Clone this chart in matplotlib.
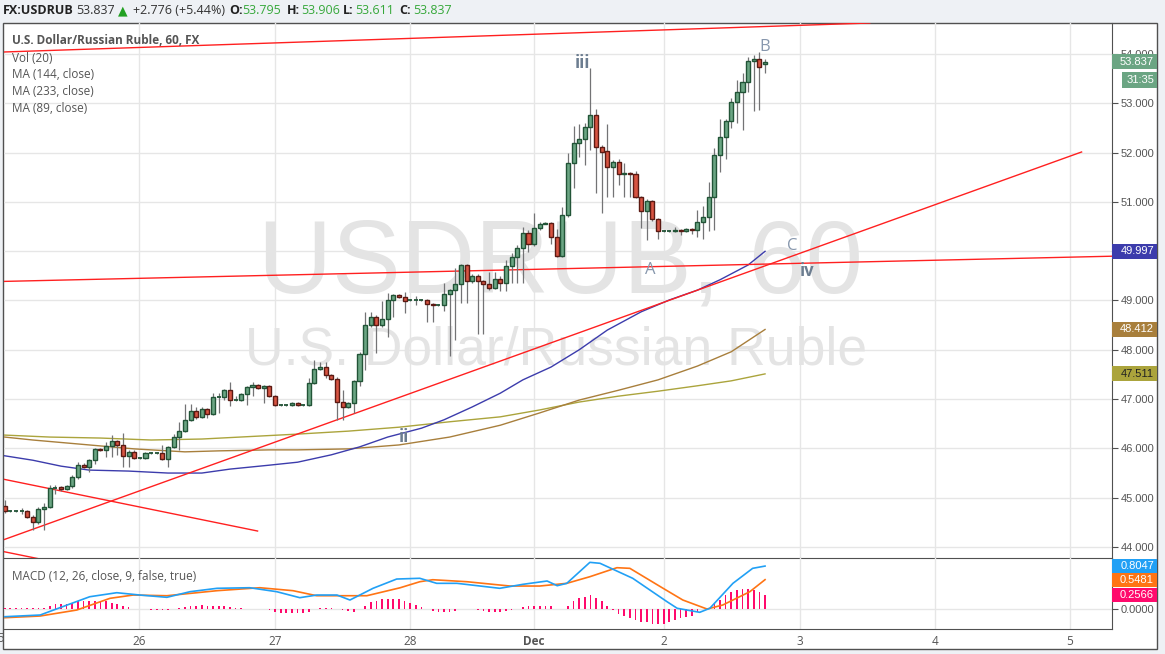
import numpy as np
import matplotlib.pyplot as plt
from matplotlib.patches import Rectangle
from matplotlib.ticker import FormatStrFormatter

plt.rcParams['font.family'] = ['Open Sans', 'DejaVu Sans']

# hourly USDRUB bars, index 0 = Nov 25 00:00
opens = [
    44.83, 44.73, 44.73, 44.73, 44.73, 44.61, 44.51, 44.77, 44.81, 45.20,
    45.22, 45.18, 45.24, 45.42, 45.66, 45.62, 45.76, 45.99, 45.97, 46.05,
    46.15, 46.07, 45.85, 45.93, 45.81, 45.81, 45.91, 45.91, 45.91, 45.79,
    46.03, 46.23, 46.35, 46.58, 46.76, 46.64, 46.80, 46.70, 47.04, 47.04,
    47.18, 46.98, 46.98, 47.10, 47.25, 47.29, 47.23, 47.27, 47.06, 46.88,
    46.88, 46.88, 46.92, 46.88, 46.88, 47.33, 47.61, 47.65, 47.49, 47.41,
    46.94, 46.84, 46.92, 47.37, 47.91, 48.50, 48.67, 48.50, 48.62, 49.01,
    49.11, 49.07, 49.00, 49.01, 49.01, 49.01, 48.93, 48.91, 48.91, 49.13,
    49.21, 49.33, 49.72, 49.40, 49.50, 49.40, 49.33, 49.25, 49.44, 49.36,
    49.70, 49.88, 50.07, 50.37, 50.15, 50.47, 50.55, 50.57, 50.29, 49.90,
    50.73, 51.79, 52.19, 52.28, 52.52, 52.76, 52.11, 52.03, 51.71, 51.81,
    51.57, 51.59, 51.57, 51.10, 50.82, 51.02, 50.65, 50.41, 50.41, 50.41,
    50.43, 50.41, 50.45, 50.43, 50.59, 50.69, 51.10, 51.95, 52.32, 52.64,
    53.03, 53.23, 53.43, 53.86, 53.90, 53.795]
highs = [
    44.95, 44.75, 44.75, 44.79, 44.75, 44.65, 44.81, 44.89, 45.26, 45.26,
    45.24, 45.26, 45.46, 45.72, 45.70, 45.79, 46.01, 46.01, 46.13, 46.27,
    46.17, 46.31, 45.97, 45.97, 45.83, 45.93, 45.93, 45.93, 46.07, 46.05,
    46.29, 46.54, 46.90, 46.90, 46.84, 46.84, 46.82, 47.12, 47.12, 47.21,
    47.35, 47.06, 47.12, 47.27, 47.35, 47.31, 47.29, 47.29, 47.08, 46.90,
    46.90, 46.94, 46.94, 46.90, 47.43, 47.79, 47.75, 47.75, 47.51, 47.45,
    47.18, 46.94, 47.39, 47.96, 48.77, 48.77, 48.71, 48.99, 49.15, 49.13,
    49.13, 49.17, 49.03, 49.09, 49.03, 49.03, 48.95, 48.93, 49.36, 49.23,
    49.66, 49.74, 49.74, 49.54, 49.54, 49.42, 49.58, 49.58, 49.50, 49.82,
    49.96, 50.13, 50.49, 50.43, 50.78, 50.59, 50.59, 50.59, 50.45, 50.90,
    51.99, 52.54, 52.58, 52.60, 53.72, 52.88, 52.15, 52.58, 51.85, 51.87,
    51.79, 51.61, 51.63, 51.12, 51.06, 51.04, 50.67, 50.43, 50.43, 50.49,
    50.45, 50.47, 50.47, 50.84, 50.92, 51.40, 52.09, 52.68, 52.68, 53.11,
    53.47, 53.61, 53.94, 53.98, 54.04, 53.906]
lows = [
    44.69, 44.71, 44.71, 44.67, 44.59, 44.35, 44.47, 44.35, 44.79, 45.08,
    45.14, 45.16, 45.20, 45.38, 45.60, 45.52, 45.68, 45.95, 45.83, 45.83,
    45.87, 45.62, 45.62, 45.79, 45.79, 45.79, 45.89, 45.89, 45.76, 45.62,
    46.01, 45.97, 46.33, 46.56, 46.60, 46.62, 46.62, 46.68, 46.72, 46.98,
    46.86, 46.96, 46.96, 46.88, 47.06, 47.21, 46.92, 47.04, 46.86, 46.86,
    46.86, 46.86, 46.86, 46.86, 46.86, 47.31, 47.59, 47.43, 47.39, 46.58,
    46.58, 46.82, 46.72, 47.27, 47.59, 48.46, 47.94, 48.46, 48.26, 48.67,
    49.05, 48.75, 48.99, 48.91, 48.99, 48.56, 48.56, 48.89, 48.79, 47.87,
    48.20, 48.95, 48.95, 49.36, 48.32, 48.32, 49.21, 49.23, 49.19, 49.19,
    49.36, 49.36, 49.36, 49.98, 50.11, 50.43, 50.55, 50.15, 49.88, 49.88,
    50.69, 51.28, 51.91, 51.75, 52.05, 51.18, 50.78, 51.10, 51.10, 51.34,
    51.10, 51.10, 51.08, 50.47, 50.23, 50.61, 50.25, 50.39, 50.39, 50.39,
    50.33, 50.39, 50.35, 50.29, 50.25, 50.41, 50.43, 51.61, 51.87, 52.50,
    52.60, 52.46, 53.23, 52.84, 52.86, 53.611]
closes = [
    44.73, 44.73, 44.73, 44.73, 44.61, 44.51, 44.77, 44.81, 45.20, 45.20,
    45.18, 45.24, 45.42, 45.66, 45.62, 45.76, 45.99, 45.97, 46.05, 46.15,
    46.07, 45.85, 45.93, 45.81, 45.81, 45.91, 45.91, 45.91, 45.79, 46.03,
    46.23, 46.35, 46.58, 46.76, 46.64, 46.80, 46.70, 47.04, 47.04, 47.18,
    46.98, 46.98, 47.10, 47.25, 47.29, 47.23, 47.27, 47.06, 46.88, 46.88,
    46.88, 46.92, 46.88, 46.88, 47.33, 47.61, 47.65, 47.49, 47.41, 46.94,
    46.84, 46.92, 47.37, 47.91, 48.50, 48.67, 48.50, 48.62, 49.01, 49.11,
    49.07, 48.99, 49.01, 49.01, 49.01, 48.93, 48.91, 48.91, 49.13, 49.21,
    49.33, 49.72, 49.40, 49.50, 49.40, 49.33, 49.25, 49.44, 49.36, 49.70,
    49.88, 50.07, 50.37, 50.15, 50.47, 50.55, 50.57, 50.29, 49.90, 50.73,
    51.79, 52.19, 52.28, 52.52, 52.76, 52.11, 52.01, 51.71, 51.81, 51.57,
    51.59, 51.57, 51.10, 50.82, 51.02, 50.65, 50.41, 50.41, 50.41, 50.43,
    50.41, 50.45, 50.43, 50.59, 50.69, 51.10, 51.95, 52.32, 52.64, 53.03,
    53.23, 53.43, 53.86, 53.90, 53.74, 53.837]

# moving averages (bar index, value)
ma89_idx = [0, 5, 10, 15, 22, 29, 35, 40, 47, 52, 58, 63, 68, 74, 78, 83, 88,
            92, 97, 102, 107, 113, 118, 123, 127, 132, 135]
ma89 = [45.85, 45.76, 45.64, 45.56, 45.54, 45.50, 45.50, 45.58, 45.66, 45.72,
        45.87, 46.03, 46.23, 46.41, 46.58, 46.84, 47.12, 47.39, 47.65, 48.00,
        48.40, 48.77, 49.01, 49.21, 49.42, 49.72, 49.997]
ma144_idx = [0, 5, 11, 17, 23, 32, 38, 47, 52, 61, 70, 79, 88, 95, 102, 109,
             116, 123, 129, 135]
ma144 = [46.23, 46.17, 46.11, 46.05, 45.99, 45.93, 45.95, 45.97, 45.97, 45.99,
         46.07, 46.23, 46.47, 46.72, 46.98, 47.18, 47.39, 47.67, 47.96, 48.412]
ma233_idx = [0, 8, 17, 26, 35, 52, 61, 70, 79, 88, 95, 102, 109, 116, 123,
             129, 135]
ma233 = [46.27, 46.23, 46.21, 46.17, 46.19, 46.29, 46.35, 46.43, 46.54, 46.64,
         46.78, 46.94, 47.06, 47.16, 47.27, 47.37, 47.511]

# MACD (12, 26, close, 9)
macd_idx = [0, 6.3, 11.1, 15.1, 19.9, 24, 28.8, 32.9, 37.7, 43.5, 48.3, 52.4,
            55.4, 59, 61.3, 65.4, 69.6, 73.7, 76.7, 80.3, 87.9, 92, 96.3, 98.1,
            99.8, 103.9, 105.7, 111.5, 117.6, 119.4, 123.4, 125.2, 129.3,
            132.8, 135]
macd = [-0.151, -0.119, 0.070, 0.226, 0.302, 0.258, 0.215, 0.321, 0.385,
        0.396, 0.321, 0.208, 0.258, 0.258, 0.164, 0.385, 0.560, 0.574, 0.479,
        0.479, 0.385, 0.460, 0.523, 0.434, 0.479, 0.875, 0.857, 0.574, 0.132,
        0.008, -0.068, 0.008, 0.479, 0.762, 0.8047]
signal_idx = [0, 6.3, 12.8, 18.7, 22.8, 28.8, 37.7, 45.3, 51.2, 55.4, 64.3,
              70.2, 73.7, 76, 82.1, 89.7, 95, 99.8, 103.9, 108.7, 111, 116.9,
              120.4, 124.7, 127.5, 132.3, 135]
signal = [-0.170, -0.138, -0.025, 0.196, 0.258, 0.245, 0.340, 0.396, 0.340,
          0.245, 0.245, 0.395, 0.509, 0.547, 0.509, 0.428, 0.428, 0.479,
          0.604, 0.774, 0.762, 0.385, 0.164, -0.006, 0.070, 0.321, 0.5481]
hist = [0.02, 0.02, 0.02, 0.02, 0.02, 0.02, 0.02, 0.02, 0.06, 0.08,
        0.09, 0.09, 0.11, 0.14, 0.14, 0.15, 0.15, 0.14, 0.14, 0.11,
        0.09, 0.06, 0.04, 0.0, -0.01, -0.01, -0.03, -0.03, -0.03, -0.02,
        0.0, 0.01, 0.03, 0.06, 0.06, 0.07, 0.06, 0.06, 0.06, 0.05,
        0.03, 0.01, 0.01, 0.0, 0.0, 0.0, 0.0, -0.03, -0.06, -0.08,
        -0.09, -0.09, -0.09, -0.09, -0.06, 0.0, 0.02, 0.02, 0.02, 0.0,
        -0.02, -0.05, -0.06, 0.0, 0.06, 0.13, 0.15, 0.18, 0.19, 0.19,
        0.18, 0.14, 0.11, 0.07, 0.03, 0.0, -0.04, -0.06, -0.06, -0.06,
        -0.04, 0.0, 0.0, 0.0, -0.02, -0.04, -0.06, -0.06, -0.07, -0.04,
        -0.02, 0.0, 0.04, 0.05, 0.06, 0.06, 0.06, 0.05, 0.0, 0.0,
        0.06, 0.14, 0.20, 0.22, 0.26, 0.20, 0.15, 0.05, -0.02, -0.10,
        -0.14, -0.18, -0.21, -0.26, -0.26, -0.28, -0.29, -0.29, -0.26, -0.21,
        -0.18, -0.15, -0.14, -0.06, 0.0, 0.01, 0.08, 0.17, 0.26, 0.31,
        0.35, 0.37, 0.38, 0.35, 0.31, 0.2566]

# drawn trend lines: (x0, y0, x1, y1) in bar index / price
trend_lines = [
    (-0.12, 54.04, 153.6, 54.628),
    (-0.12, 49.387, 196.6, 49.898),
    (-0.12, 44.15, 191.2, 52.012),
    (-0.12, 45.373, 44.9, 44.324),
    (-0.12, 43.905, 10, 43.67),
]

day_pos = [23.85, 48, 71.95, 94, 117, 141.2, 165.2, 189.1]
day_labels = ['26', '27', '28', 'Dec', '2', '3', '4', '5']

W, H = 1165, 654
fig = plt.figure(figsize=(W / 100, H / 100), dpi=100, facecolor='#eef1f5')


def fx(px):
    return px / W


def fy(py):
    return 1 - py / H


fig.patches.append(Rectangle((fx(3), fy(649)), fx(1157) - fx(3), fy(23) - fy(649),
                             transform=fig.transFigure, fc='white', ec='#505050',
                             lw=1, zorder=-1))

ax = fig.add_axes([fx(4), fy(558), fx(1112) - fx(4), fy(23) - fy(558)])
mx = fig.add_axes([fx(4), fy(629), fx(1112) - fx(4), fy(558) - fy(629)], sharex=ax)
for a in (ax, mx):
    a.set_facecolor('none')
    a.spines['top'].set_visible(False)
    a.spines['left'].set_visible(False)
    a.spines['right'].set_color('#505050')
    a.spines['bottom'].set_color('#505050')
    a.grid(True, color='#e6e6e6', lw=1)
    a.set_axisbelow(True)

ax.set_xlim(-0.12, 196.6)
ax.set_ylim(43.777, 54.628)
mx.set_ylim(-0.383, 0.957)

# watermark
ax.text(0.502, 0.546, 'USDRUB, 60', transform=ax.transAxes, ha='center', va='center',
        fontsize=74, color='#e4e4e4', family='Liberation Sans', zorder=0.6)
ax.text(0.498, 0.387, 'U.S. Dollar/Russian Ruble', transform=ax.transAxes, ha='center',
        va='center', fontsize=38.5, color='#e4e4e4', family='Liberation Sans', zorder=0.6)

# moving averages
ax.plot(ma233_idx, ma233, color='#aba43c', lw=1, zorder=2)
ax.plot(ma144_idx, ma144, color='#a87f3c', lw=1, zorder=2)
ax.plot(ma89_idx, ma89, color='#3c3cac', lw=1, zorder=2)

for x0, y0, x1, y1 in trend_lines:
    ax.plot([x0, x1], [y0, y1], color='#ff2020', lw=1, zorder=3)

# candles
for i, (o, h, l, c) in enumerate(zip(opens, highs, lows, closes)):
    up = c >= o
    face = '#6ba583' if up else '#d75442'
    edge = '#225437' if up else '#5b1a13'
    ax.vlines(i, l, h, color='#737375', lw=0.9, zorder=4)
    if abs(c - o) < 0.015:
        ax.hlines(o, i - 0.36, i + 0.36, color=edge, lw=1.3, zorder=5)
    else:
        ax.bar(i, abs(c - o), bottom=min(o, c), width=0.72, color=face,
               edgecolor=edge, linewidth=1, zorder=5)

# wave labels
for x, y, s, w, col in [(102.5, 53.82, 'iii', 'bold', '#6c7d90'),
                        (135, 54.14, 'B', 'normal', '#8797ad'),
                        (114.7, 49.62, 'A', 'normal', '#8797ad'),
                        (139.9, 50.10, 'C', 'normal', '#8797ad'),
                        (142.4, 49.60, 'iv', 'bold', '#6c7d90'),
                        (70.9, 46.23, 'ii', 'bold', '#6c7d90')]:
    ax.text(x, y, s, ha='center', va='center', fontsize=12, fontweight=w,
            color=col, zorder=6)

# MACD panel
mx.bar(range(len(hist)), hist, width=0.3, color='#ff0a6c', zorder=2)
mx.plot(signal_idx, signal, color='#ff7414', lw=1.2, zorder=3)
mx.plot(macd_idx, macd, color='#21a0f5', lw=1.2, zorder=3)

# axes ticks
ax.yaxis.tick_right()
ax.set_yticks(np.arange(44, 55))
ax.yaxis.set_major_formatter(FormatStrFormatter('%.3f'))
ax.tick_params(axis='y', length=4, color='#505050', labelcolor='#555555',
               labelsize=8, pad=2)
ax.tick_params(axis='x', length=0, labelbottom=False)
for t in ax.get_yticklabels():
    t.set_family('Liberation Sans')

mx.yaxis.tick_right()
mx.set_yticks([0])
mx.set_yticklabels(['0.0000'], family='Liberation Sans')
mx.tick_params(axis='y', length=4, color='#505050', labelcolor='#555555',
               labelsize=8, pad=2)
mx.set_xticks(day_pos)
mx.set_xticklabels(day_labels)
mx.tick_params(axis='x', length=0, pad=4, labelsize=8.5, labelcolor='#555555')
for t in mx.get_xticklabels():
    if t.get_text() == 'Dec':
        t.set_fontweight('bold')
fig.text(fx(-2), fy(638), '25', ha='center', va='center', fontsize=8.5, color='#555555')

fig.canvas.draw()


def tag(axis, val, text, fc, tc='white', x0=1112, x1=1157, h=15):
    ypx = axis.transData.transform((0, val))[1]
    fig.patches.append(Rectangle((x0 / W, (ypx - h / 2) / H), (x1 - x0) / W, h / H,
                                 transform=fig.transFigure, fc=fc, ec='none', zorder=5))
    fig.text((x1 - 3) / W, ypx / H, text, ha='right', va='center', color=tc,
             fontsize=8, family='Liberation Sans', zorder=6)


tag(ax, closes[-1], '53.837', '#6ba583')
tag(ax, ma89[-1], '49.997', '#3c3cac')
tag(ax, ma144[-1], '48.412', '#a87f3c')
tag(ax, ma233[-1], '47.511', '#aba43c', tc='#222222')
tag(mx, macd[-1], '0.8047', '#21a0f5', h=14)
tag(mx, signal[-1], '0.5481', '#ff7414', h=14)
tag(mx, hist[-1], '0.2566', '#ff0a6c', h=14)
# bar countdown
fig.patches.append(Rectangle((fx(1122), fy(88)), fx(1157) - fx(1122), 16 / H,
                             transform=fig.transFigure, fc='#6ba583', ec='none', zorder=5))
fig.text(fx(1154), fy(80), '31:35', ha='right', va='center', color='white',
         fontsize=8, family='Liberation Sans', zorder=6)

# header
green = '#36a83a'
for x, s, col, w in [(3, 'FX:USDRUB', '#222222', 'bold'), (76, '53.837', '#333333', 'normal'),
                     (133, '+2.776 (+5.44%)', '#333333', 'normal'),
                     (229, 'O:', '#222222', 'bold'), (242, '53.795', green, 'normal'),
                     (287, 'H:', '#222222', 'bold'), (301, '53.906', green, 'normal'),
                     (343, 'L:', '#222222', 'bold'), (355, '53.611', green, 'normal'),
                     (399, 'C:', '#222222', 'bold'), (413, '53.837', green, 'normal')]:
    fig.text(fx(x), fy(11), s, ha='left', va='center', fontsize=9, color=col, fontweight=w)
fig.text(fx(118), fy(11), '\u25b2', ha='left', va='center', fontsize=9, color='#22a022',
         family='DejaVu Sans')

# legend
fig.text(fx(12), fy(41), 'U.S. Dollar/Russian Ruble, 60, FX', ha='left', va='center',
         fontsize=8.5, fontweight='bold', color='#555555')
for k, s in enumerate(['Vol (20)', 'MA (144, close)', 'MA (233, close)', 'MA (89, close)']):
    fig.text(fx(12), fy(58 + 16.7 * k), s, ha='left', va='center', fontsize=8.5,
             color='#555555')
fig.text(fx(12), fy(576), 'MACD (12, 26, close, 9, false, true)', ha='left', va='center',
         fontsize=8.5, color='#555555')

fig.savefig('out.png', dpi=100, facecolor=fig.get_facecolor())
